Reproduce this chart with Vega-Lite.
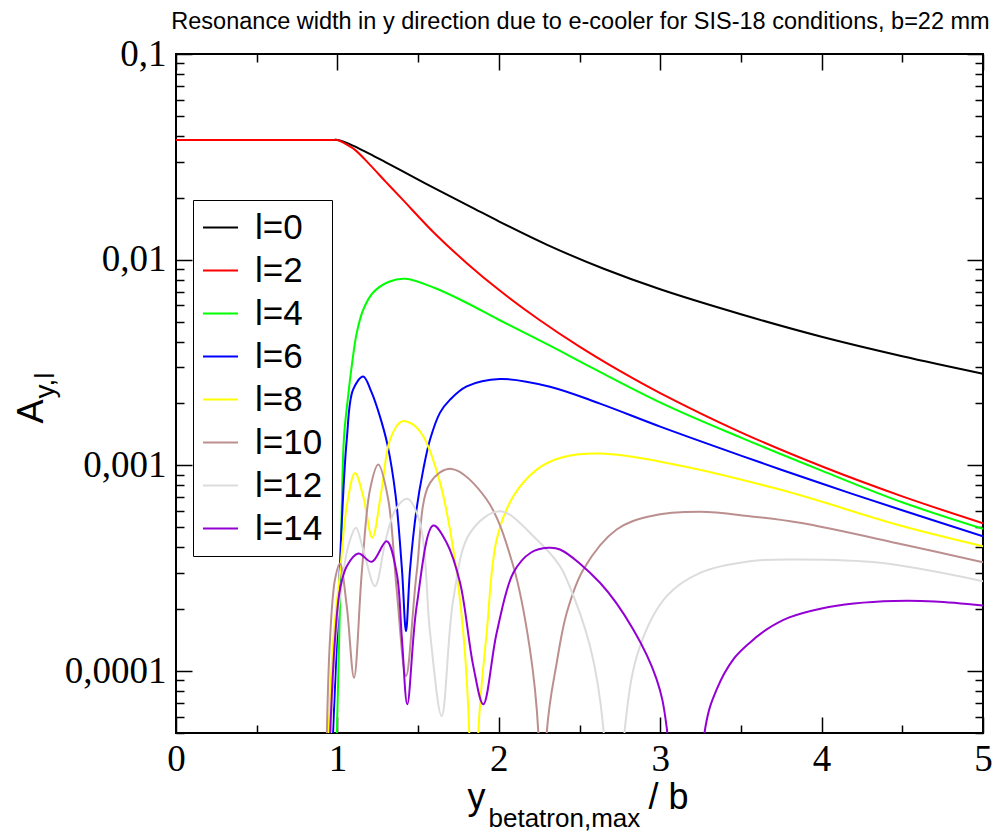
{
"$schema": "https://vega.github.io/schema/vega-lite/v6.json",
"width": 807, "height": 679,
"autosize": {"type": "none"},
"padding": {"left": 176, "top": 54, "right": 14, "bottom": 99},
"background": "white",
"config": {
  "view": {"stroke": "black", "strokeWidth": 2},
  "axis": {"domain": false, "grid": false, "tickColor": "black", "tickWidth": 1.5, "labelColor": "black", "titleColor": "black", "labelFlush": false, "labelOverlap": false, "labelBound": false, "titleFont": "Liberation Sans", "titleFontWeight": "normal", "labelFont": "Liberation Serif"}
},
"data": {"values": [
{"s":"l=0","x":0,"v":0.0382},{"s":"l=0","x":0.5,"v":0.0382},{"s":"l=0","x":0.9,"v":0.0382},{"s":"l=0","x":0.97,"v":0.0382},{"s":"l=0","x":1,"v":0.0382},{"s":"l=0","x":1.05,"v":0.03718},{"s":"l=0","x":1.1,"v":0.03575},{"s":"l=0","x":1.2,"v":0.03268},{"s":"l=0","x":1.3,"v":0.02972},{"s":"l=0","x":1.4,"v":0.02702},{"s":"l=0","x":1.55,"v":0.02337},{"s":"l=0","x":1.7,"v":0.02032},{"s":"l=0","x":1.85,"v":0.01767},{"s":"l=0","x":2,"v":0.01537},{"s":"l=0","x":2.3,"v":0.01181},{"s":"l=0","x":2.65,"v":0.009032},{"s":"l=0","x":3,"v":0.007181},{"s":"l=0","x":3.5,"v":0.005431},{"s":"l=0","x":4,"v":0.004223},{"s":"l=0","x":4.5,"v":0.003396},{"s":"l=0","x":5,"v":0.002792},
{"s":"l=2","x":0,"v":0.0382},{"s":"l=2","x":0.5,"v":0.0382},{"s":"l=2","x":0.9,"v":0.0382},{"s":"l=2","x":0.97,"v":0.0382},{"s":"l=2","x":1,"v":0.0382},{"s":"l=2","x":1.04,"v":0.03696},{"s":"l=2","x":1.109,"v":0.03418},{"s":"l=2","x":1.202,"v":0.02891},{"s":"l=2","x":1.3,"v":0.02389},{"s":"l=2","x":1.4,"v":0.01976},{"s":"l=2","x":1.6,"v":0.01349},{"s":"l=2","x":1.8,"v":0.009648},{"s":"l=2","x":2,"v":0.007141},{"s":"l=2","x":2.25,"v":0.005106},{"s":"l=2","x":2.5,"v":0.00378},{"s":"l=2","x":2.75,"v":0.00288},{"s":"l=2","x":3,"v":0.002247},{"s":"l=2","x":3.5,"v":0.001448},{"s":"l=2","x":4,"v":0.00099},{"s":"l=2","x":4.5,"v":0.000707},{"s":"l=2","x":5,"v":0.0005233},
{"s":"l=4","x":0.996,"v":0.000048},{"s":"l=4","x":1.016,"v":0.000207},{"s":"l=4","x":1.04,"v":0.001335},{"s":"l=4","x":1.064,"v":0.002087},{"s":"l=4","x":1.09,"v":0.003087},{"s":"l=4","x":1.12,"v":0.004415},{"s":"l=4","x":1.16,"v":0.00571},{"s":"l=4","x":1.22,"v":0.006907},{"s":"l=4","x":1.32,"v":0.007808},{"s":"l=4","x":1.42,"v":0.008074},{"s":"l=4","x":1.6,"v":0.007303},{"s":"l=4","x":1.8,"v":0.006177},{"s":"l=4","x":2,"v":0.005106},{"s":"l=4","x":2.317,"v":0.003818},{"s":"l=4","x":2.6,"v":0.002919},{"s":"l=4","x":3.042,"v":0.001952},{"s":"l=4","x":3.5,"v":0.001365},{"s":"l=4","x":4,"v":0.0009436},{"s":"l=4","x":4.504,"v":0.0006597},{"s":"l=4","x":5,"v":0.0004915},
{"s":"l=6","x":0.972,"v":0.000048},{"s":"l=6","x":1.006,"v":0.000207},{"s":"l=6","x":1.027,"v":0.0005257},{"s":"l=6","x":1.058,"v":0.001335},{"s":"l=6","x":1.097,"v":0.002334},{"s":"l=6","x":1.16,"v":0.002708},{"s":"l=6","x":1.21,"v":0.002282},{"s":"l=6","x":1.26,"v":0.001765},{"s":"l=6","x":1.31,"v":0.001262},{"s":"l=6","x":1.36,"v":0.0007214},{"s":"l=6","x":1.4,"v":0.0003119},{"s":"l=6","x":1.425,"v":0.0001564},{"s":"l=6","x":1.45,"v":0.0003119},{"s":"l=6","x":1.49,"v":0.00061},{"s":"l=6","x":1.532,"v":0.0009541},{"s":"l=6","x":1.574,"v":0.001335},{"s":"l=6","x":1.636,"v":0.001805},{"s":"l=6","x":1.698,"v":0.002087},{"s":"l=6","x":1.801,"v":0.002422},{"s":"l=6","x":2.007,"v":0.002631},{"s":"l=6","x":2.317,"v":0.002414},{"s":"l=6","x":2.627,"v":0.001996},{"s":"l=6","x":3,"v":0.001543},{"s":"l=6","x":3.5,"v":0.001116},{"s":"l=6","x":4,"v":0.0008159},{"s":"l=6","x":4.504,"v":0.0006032},{"s":"l=6","x":5,"v":0.0004525},
{"s":"l=8","x":0.944,"v":0.000048},{"s":"l=8","x":0.975,"v":0.0001425},{"s":"l=8","x":1.016,"v":0.0003005},{"s":"l=8","x":1.058,"v":0.000633},{"s":"l=8","x":1.109,"v":0.0009195},{"s":"l=8","x":1.16,"v":0.0007078},{"s":"l=8","x":1.216,"v":0.0004445},{"s":"l=8","x":1.274,"v":0.0007627},{"s":"l=8","x":1.326,"v":0.001335},{"s":"l=8","x":1.398,"v":0.001637},{"s":"l=8","x":1.46,"v":0.001595},{"s":"l=8","x":1.532,"v":0.001384},{"s":"l=8","x":1.636,"v":0.0008223},{"s":"l=8","x":1.718,"v":0.0003901},{"s":"l=8","x":1.78,"v":0.0001536},{"s":"l=8","x":1.817,"v":0.0000502},{"s":"l=8","x":1.845,"v":0.000001},{"s":"l=8","x":1.873,"v":0.0000502},{"s":"l=8","x":1.925,"v":0.0001536},{"s":"l=8","x":1.987,"v":0.0004361},{"s":"l=8","x":2.09,"v":0.0007078},{"s":"l=8","x":2.235,"v":0.0009541},{"s":"l=8","x":2.379,"v":0.001087},{"s":"l=8","x":2.627,"v":0.001141},{"s":"l=8","x":3.042,"v":0.001028},{"s":"l=8","x":3.742,"v":0.0007627},{"s":"l=8","x":4.504,"v":0.000506},{"s":"l=8","x":5,"v":0.0004048},
{"s":"l=10","x":0.934,"v":0.000048},{"s":"l=10","x":0.954,"v":0.0001425},{"s":"l=10","x":0.985,"v":0.0002788},{"s":"l=10","x":1.016,"v":0.0003335},{"s":"l=10","x":1.058,"v":0.0002069},{"s":"l=10","x":1.103,"v":0.00009289},{"s":"l=10","x":1.151,"v":0.0003005},{"s":"l=10","x":1.202,"v":0.0007627},{"s":"l=10","x":1.253,"v":0.001009},{"s":"l=10","x":1.315,"v":0.0006823},{"s":"l=10","x":1.367,"v":0.0002494},{"s":"l=10","x":1.425,"v":0.00009457},{"s":"l=10","x":1.491,"v":0.0003005},{"s":"l=10","x":1.574,"v":0.0008223},{"s":"l=10","x":1.708,"v":0.0009616},{"s":"l=10","x":1.925,"v":0.0006823},{"s":"l=10","x":2.09,"v":0.0003236},{"s":"l=10","x":2.193,"v":0.0001275},{"s":"l=10","x":2.245,"v":0.0000502},{"s":"l=10","x":2.27,"v":0.000001},{"s":"l=10","x":2.297,"v":0.0000502},{"s":"l=10","x":2.359,"v":0.0001098},{"s":"l=10","x":2.421,"v":0.0001921},{"s":"l=10","x":2.524,"v":0.0003119},{"s":"l=10","x":2.73,"v":0.0004877},{"s":"l=10","x":2.937,"v":0.0005659},{"s":"l=10","x":3.247,"v":0.0005945},{"s":"l=10","x":3.556,"v":0.0005659},{"s":"l=10","x":3.866,"v":0.0005257},{"s":"l=10","x":4.504,"v":0.0004126},{"s":"l=10","x":5,"v":0.0003384},
{"s":"l=12","x":0.96,"v":0.000048},{"s":"l=12","x":0.99,"v":0.0001425},{"s":"l=12","x":1.03,"v":0.0002788},{"s":"l=12","x":1.07,"v":0.0004126},{"s":"l=12","x":1.115,"v":0.000497},{"s":"l=12","x":1.16,"v":0.0003901},{"s":"l=12","x":1.233,"v":0.0002587},{"s":"l=12","x":1.3,"v":0.0004361},{"s":"l=12","x":1.36,"v":0.00061},{"s":"l=12","x":1.433,"v":0.0006877},{"s":"l=12","x":1.512,"v":0.0005257},{"s":"l=12","x":1.574,"v":0.0001536},{"s":"l=12","x":1.646,"v":0.00006045},{"s":"l=12","x":1.718,"v":0.000223},{"s":"l=12","x":1.822,"v":0.00047},{"s":"l=12","x":2.007,"v":0.0005985},{"s":"l=12","x":2.235,"v":0.0004361},{"s":"l=12","x":2.379,"v":0.0003236},{"s":"l=12","x":2.421,"v":0.0002788},{"s":"l=12","x":2.565,"v":0.0001323},{"s":"l=12","x":2.647,"v":0.00005335},{"s":"l=12","x":2.715,"v":0.000001},{"s":"l=12","x":2.782,"v":0.00005335},{"s":"l=12","x":2.875,"v":0.0001323},{"s":"l=12","x":3.04,"v":0.0002313},{"s":"l=12","x":3.247,"v":0.0003005},{"s":"l=12","x":3.556,"v":0.0003422},{"s":"l=12","x":3.866,"v":0.0003487},{"s":"l=12","x":4.362,"v":0.0003361},{"s":"l=12","x":5,"v":0.0002735},
{"s":"l=14","x":0.954,"v":0.000048},{"s":"l=14","x":0.985,"v":0.0001425},{"s":"l=14","x":1.016,"v":0.0002494},{"s":"l=14","x":1.058,"v":0.0003236},{"s":"l=14","x":1.13,"v":0.0003729},{"s":"l=14","x":1.213,"v":0.0003399},{"s":"l=14","x":1.305,"v":0.0004279},{"s":"l=14","x":1.367,"v":0.0003005},{"s":"l=14","x":1.4,"v":0.0001425},{"s":"l=14","x":1.433,"v":0.00006892},{"s":"l=14","x":1.491,"v":0.0002069},{"s":"l=14","x":1.594,"v":0.00051},{"s":"l=14","x":1.677,"v":0.0004203},{"s":"l=14","x":1.76,"v":0.0002687},{"s":"l=14","x":1.842,"v":0.0001057},{"s":"l=14","x":1.904,"v":0.00006892},{"s":"l=14","x":1.987,"v":0.0001536},{"s":"l=14","x":2.09,"v":0.0003005},{"s":"l=14","x":2.2,"v":0.0003771},{"s":"l=14","x":2.307,"v":0.0003976},{"s":"l=14","x":2.379,"v":0.0003901},{"s":"l=14","x":2.627,"v":0.0002687},{"s":"l=14","x":2.833,"v":0.0001594},{"s":"l=14","x":2.978,"v":0.00009115},{"s":"l=14","x":3.04,"v":0.00005335},{"s":"l=14","x":3.16,"v":0.000001},{"s":"l=14","x":3.28,"v":0.00005335},{"s":"l=14","x":3.35,"v":0.0000815},{"s":"l=14","x":3.453,"v":0.000114},{"s":"l=14","x":3.55,"v":0.0001363},{"s":"l=14","x":3.66,"v":0.0001594},{"s":"l=14","x":3.8,"v":0.0001823},{"s":"l=14","x":4,"v":0.0002016},{"s":"l=14","x":4.2,"v":0.0002132},{"s":"l=14","x":4.45,"v":0.0002193},{"s":"l=14","x":4.7,"v":0.0002181},{"s":"l=14","x":5,"v":0.0002085}
]},
"resolve": {"axis": {"x": "independent", "y": "independent"}},
"layer": [
  {
    "mark": {"type": "line", "clip": true, "strokeWidth": 2, "interpolate": "catmull-rom"},
    "encoding": {
      "x": {"field": "x", "type": "quantitative", "scale": {"domain": [0, 5], "nice": false, "zero": false},
        "axis": {"orient": "bottom", "values": [0, 1, 2, 3, 4, 5], "tickSize": -16, "labelFontSize": 37, "labelPadding": 24, "format": "d", "title": "y", "titleFontSize": 36, "titleX": 291, "titleY": 75, "titleAlign": "left", "titleBaseline": "alphabetic"}},
      "y": {"field": "v", "type": "quantitative", "scale": {"type": "log", "domain": [0.00005, 0.1], "nice": false},
        "axis": {"orient": "left", "values": [0.0001, 0.001, 0.01, 0.1], "tickSize": -16, "labelFontSize": 37, "labelPadding": 26, "labelExpr": "replace(toString(datum.value), '.', ',')", "title": "A", "titleFontSize": 36, "titleX": -134, "titleY": 369, "titleAngle": 270, "titleAlign": "left", "titleBaseline": "alphabetic"}},
      "color": {"field": "s", "type": "nominal",
        "scale": {"domain": ["l=0", "l=2", "l=4", "l=6", "l=8", "l=10", "l=12", "l=14"], "range": ["#000000", "#ff0000", "#00ff00", "#0000ff", "#ffff00", "#bc8f8f", "#dcdcdc", "#9400d3"]},
        "legend": {"title": null, "orient": "none", "legendX": 17, "legendY": 146, "symbolType": "stroke", "symbolSize": 1225, "symbolStrokeWidth": 2, "labelFont": "Liberation Sans", "labelFontSize": 35, "labelColor": "black", "labelOffset": 16, "padding": 9, "rowPadding": 6, "strokeColor": "black", "fillColor": "white", "labelLimit": 300}}
    }
  },
  {
    "mark": {"type": "point", "opacity": 0, "clip": true},
    "encoding": {
      "x": {"field": "x", "type": "quantitative", "scale": {"domain": [0, 5], "nice": false, "zero": false},
        "axis": {"orient": "bottom", "values": [0.5, 1.5, 2.5, 3.5, 4.5], "tickSize": -8, "labels": false, "title": "betatron,max", "titleFontSize": 26, "titleX": 312, "titleY": 93, "titleAlign": "left", "titleBaseline": "alphabetic"}},
      "y": {"field": "v", "type": "quantitative", "scale": {"type": "log", "domain": [0.00005, 0.1], "nice": false},
        "axis": {"orient": "left", "values": [0.00005, 0.00006, 0.00007, 0.00008, 0.00009, 0.0002, 0.0003, 0.0004, 0.0005, 0.0006, 0.0007, 0.0008, 0.0009, 0.002, 0.003, 0.004, 0.005, 0.006, 0.007, 0.008, 0.009, 0.02, 0.03, 0.04, 0.05, 0.06, 0.07, 0.08, 0.09], "tickSize": -8, "labels": false, "title": "y,l", "titleFontSize": 28, "titleX": -123, "titleY": 344, "titleAngle": 270, "titleAlign": "left", "titleBaseline": "alphabetic"}}
    }
  },
  {
    "mark": {"type": "point", "opacity": 0, "clip": true},
    "encoding": {
      "x": {"field": "x", "type": "quantitative", "scale": {"domain": [0, 5], "nice": false, "zero": false},
        "axis": {"orient": "top", "values": [0, 1, 2, 3, 4, 5], "tickSize": -16, "labels": false, "title": "Resonance width in y direction due to e-cooler for SIS-18 conditions, b=22 mm", "titleFontSize": 23.5, "titleX": 404, "titleY": -26, "titleAlign": "center", "titleBaseline": "alphabetic", "titleLimit": 1000}},
      "y": {"field": "v", "type": "quantitative", "scale": {"type": "log", "domain": [0.00005, 0.1], "nice": false},
        "axis": {"orient": "right", "values": [0.0001, 0.001, 0.01, 0.1], "tickSize": -16, "labels": false, "title": null}}
    }
  },
  {
    "mark": {"type": "point", "opacity": 0, "clip": true},
    "encoding": {
      "x": {"field": "x", "type": "quantitative", "scale": {"domain": [0, 5], "nice": false, "zero": false},
        "axis": {"orient": "top", "values": [0.5, 1.5, 2.5, 3.5, 4.5], "tickSize": -8, "labels": false, "title": null}},
      "y": {"field": "v", "type": "quantitative", "scale": {"type": "log", "domain": [0.00005, 0.1], "nice": false},
        "axis": {"orient": "right", "values": [0.00005, 0.00006, 0.00007, 0.00008, 0.00009, 0.0002, 0.0003, 0.0004, 0.0005, 0.0006, 0.0007, 0.0008, 0.0009, 0.002, 0.003, 0.004, 0.005, 0.006, 0.007, 0.008, 0.009, 0.02, 0.03, 0.04, 0.05, 0.06, 0.07, 0.08, 0.09], "tickSize": -8, "labels": false, "title": null}}
    }
  },
  {
    "mark": {"type": "point", "opacity": 0, "clip": true},
    "encoding": {
      "x": {"field": "x", "type": "quantitative", "scale": {"domain": [0, 5], "nice": false, "zero": false},
        "axis": {"orient": "bottom", "ticks": false, "labels": false, "title": "/ b", "titleFontSize": 36, "titleX": 472, "titleY": 75, "titleAlign": "left", "titleBaseline": "alphabetic"}},
      "y": {"field": "v", "type": "quantitative", "scale": {"type": "log", "domain": [0.00005, 0.1], "nice": false}, "axis": null}
    }
  }
]
}
